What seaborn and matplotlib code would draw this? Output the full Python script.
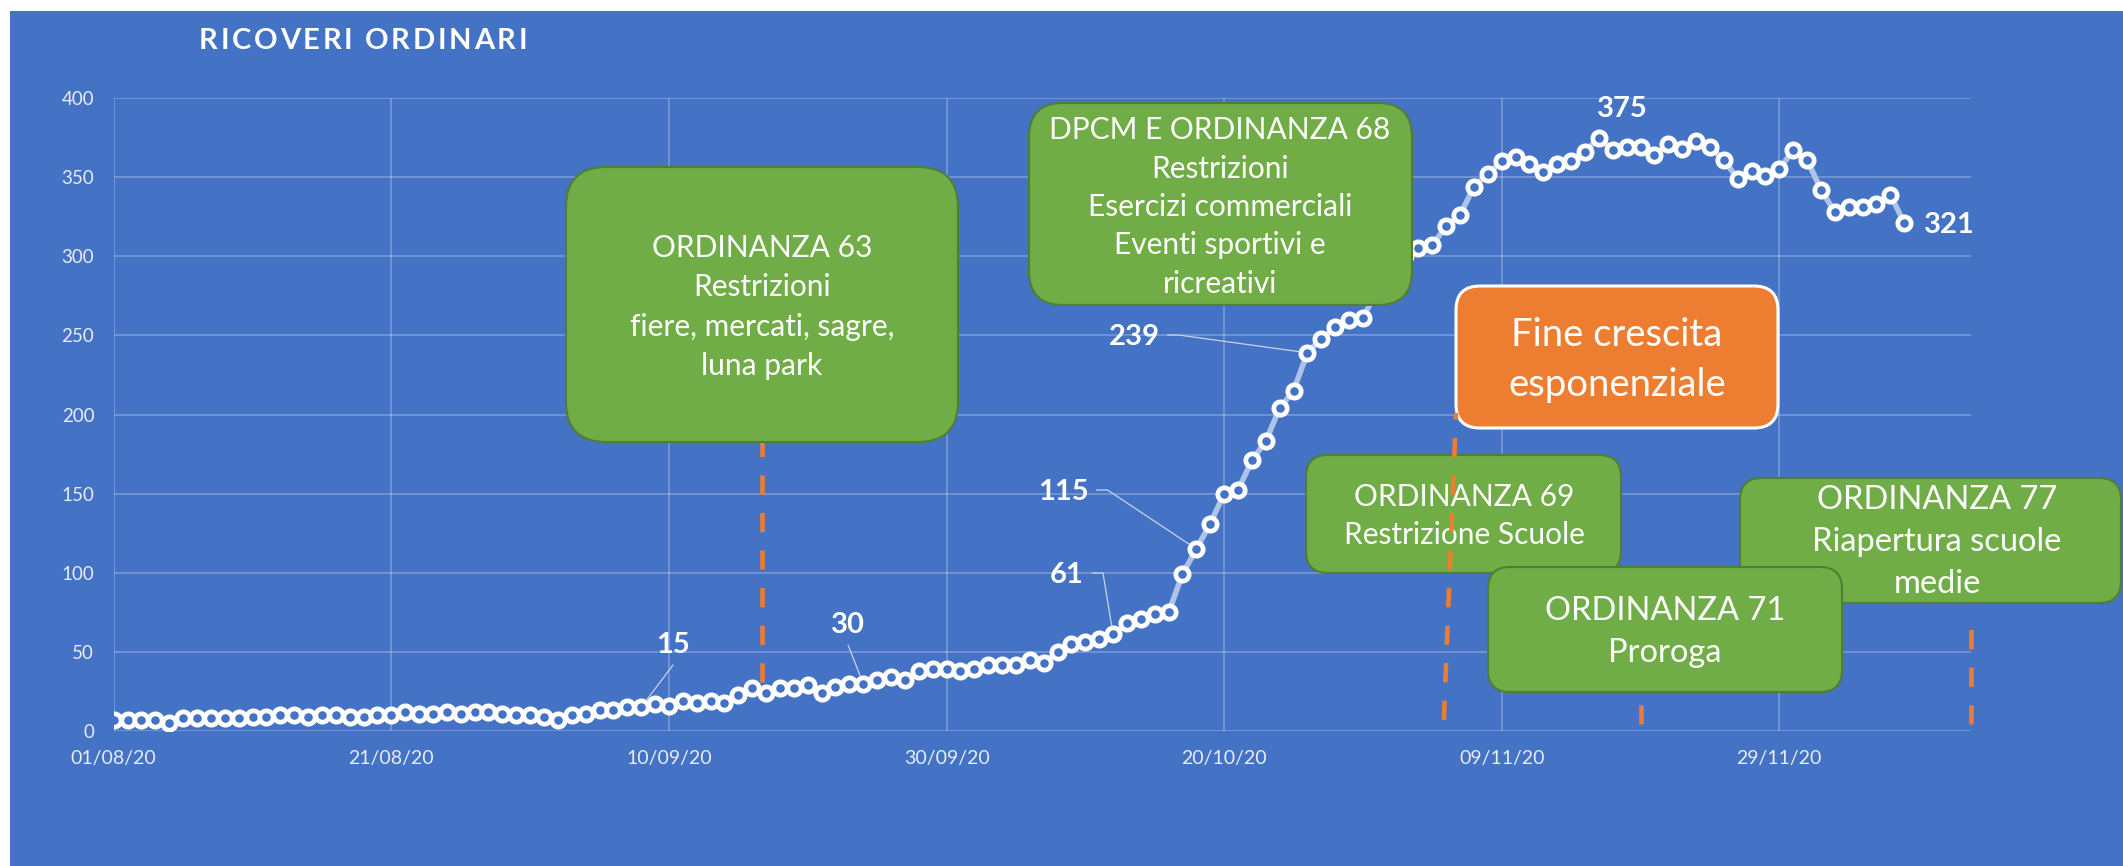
import matplotlib
matplotlib.use("Agg")
import matplotlib.pyplot as plt
import matplotlib.dates as mdates
from matplotlib.patches import FancyBboxPatch, Rectangle
from matplotlib.transforms import IdentityTransform
from matplotlib.lines import Line2D
import seaborn as sns
import pandas as pd

# ricoveri ordinari, one value per day from 01/08/20 to 08/12/20
START = "2020-08-01"
RICOVERI = [
    7, 7, 7, 7, 5, 8, 8, 8, 8, 8,
    9, 9, 10, 10, 9, 10, 10, 9, 9, 10,
    10, 12, 11, 11, 12, 11, 12, 12, 11, 10,
    10, 9, 7, 10, 11, 13, 13, 15, 15, 17,
    16, 19, 18, 19, 18, 23, 27, 24, 27, 27,
    29, 24, 28, 30, 30, 32, 34, 32, 38, 39,
    39, 38, 39, 42, 42, 42, 45, 43, 50, 55,
    56, 58, 61, 68, 71, 74, 75, 99, 115, 131,
    150, 152, 171, 183, 204, 215, 239, 248, 255, 260,
    261, 278, 290, 300, 305, 307, 319, 326, 344, 352,
    360, 363, 358, 353, 358, 360, 366, 375, 367, 369,
    369, 364, 371, 368, 373, 369, 361, 349, 354, 351,
    355, 367, 361, 342, 328, 331, 331, 333, 339, 321,
]
TICK_DATES = ["2020-08-01", "2020-08-21", "2020-09-10", "2020-09-30",
              "2020-10-20", "2020-11-09", "2020-11-29"]
Y_TICKS = [0, 50, 100, 150, 200, 250, 300, 350, 400]

# dates that carry a data label
LABEL_DATES = ["2020-09-08", "2020-09-24", "2020-10-12", "2020-10-18",
               "2020-10-26", "2020-11-16", "2020-12-08"]

TITLE = "RICOVERI ORDINARI"
BOX_TEXTS = [
    "ORDINANZA 63\nRestrizioni\nfiere, mercati, sagre,\nluna park",
    "DPCM E ORDINANZA 68\nRestrizioni\nEsercizi commerciali\nEventi sportivi e\nricreativi",
    "Fine crescita\nesponenziale",
    "ORDINANZA 69\nRestrizione Scuole",
    "ORDINANZA 77\nRiapertura scuole\nmedie",
    "ORDINANZA 71\nProroga",
]

BLUE = "#4472C4"
GREEN = "#70AD47"
GREEN_EDGE = "#507E32"
ORANGE = "#ED7D31"
LINE = "#adc3ea"
TICK_COL = "#e8ecf5"

W, H = 2123, 866


def main():
    sns.set_theme(style="white")
    plt.rcParams["font.family"] = ["Lato", "DejaVu Sans"]

    fig = plt.figure(figsize=(W / 100, H / 100), dpi=100)
    fig.patch.set_facecolor("white")
    fig.add_artist(Rectangle((10, 0), W - 10, H - 11, transform=IdentityTransform(),
                             fc=BLUE, ec="none", zorder=-5))

    ax = fig.add_axes([113.7 / W, 1 - 731 / H, (1971.4 - 113.7) / W, (731 - 98) / H])
    ax.set_facecolor("none")

    df = pd.DataFrame({
        "data": pd.date_range(START, periods=len(RICOVERI), freq="D"),
        "ricoveri": RICOVERI,
    })
    sns.lineplot(data=df, x="data", y="ricoveri", ax=ax, color=LINE, linewidth=4,
                 marker="o", markersize=9.6, markerfacecolor=BLUE,
                 markeredgecolor="white", markeredgewidth=3.4, zorder=3)

    start = pd.Timestamp(START)
    ax.set_xlim(start, start + pd.Timedelta(days=133.84))
    ax.set_ylim(0, 400)
    ax.set_xticks(pd.to_datetime(TICK_DATES))
    ax.xaxis.set_major_formatter(mdates.DateFormatter("%d/%m/%y"))
    ax.set_yticks(Y_TICKS)
    ax.set_xlabel("")
    ax.set_ylabel("")
    ax.tick_params(length=0, colors=TICK_COL, pad=14)
    ax.tick_params(axis="x", labelsize=14)
    ax.tick_params(axis="y", labelsize=13.5)
    ax.grid(True, color="white", alpha=0.3, linewidth=1.1)
    ax.set_axisbelow(True)
    for s in ax.spines.values():
        s.set_visible(False)

    # title with a little letter spacing, as in the original
    renderer = fig.canvas.get_renderer()
    title_kw = dict(fontsize=21, fontweight="bold", color="white", va="baseline", ha="left")

    def text_w(s):
        t = fig.text(0, 0, s, **title_kw)
        w = t.get_window_extent(renderer).width
        t.remove()
        return w

    for i, ch in enumerate(TITLE):
        if ch == " ":
            continue
        xi = 198.7 + text_w(TITLE[:i + 1]) - text_w(ch) + i * 2.7
        fig.text(xi / W, 1 - 49.3 / H, ch, **title_kw)

    # ---- annotation boxes (pixel positions measured from top-left)
    def box(x0, y0, x1, y1, fc, ec, lw, r, z):
        fig.add_artist(FancyBboxPatch((x0, H - y1), x1 - x0, y1 - y0,
                                      boxstyle=f"round,pad=0,rounding_size={r}",
                                      fc=fc, ec=ec, lw=lw, transform=IdentityTransform(),
                                      zorder=z))

    def btext(x, y, s, size, z, ls=1.5):
        fig.text(x / W, 1 - y / H, s, ha="center", va="center", ma="center",
                 color="white", fontsize=size, linespacing=ls, zorder=z)

    box(566, 167, 958, 442, GREEN, GREEN_EDGE, 1.5, 40, 5)
    btext(762, 307, BOX_TEXTS[0], 21.5, 5.1, ls=1.48)
    box(1029, 103, 1412, 305, GREEN, GREEN_EDGE, 1.5, 34, 5)
    btext(1220, 207, BOX_TEXTS[1], 21.5, 5.1, ls=1.45)
    box(1456, 286, 1778, 428, ORANGE, "white", 2.2, 24, 5)
    btext(1617, 360, BOX_TEXTS[2], 27.5, 5.1, ls=1.45)
    box(1306, 455, 1621, 573, GREEN, GREEN_EDGE, 1.5, 22, 5)
    btext(1464, 516, BOX_TEXTS[3], 21.5, 5.1, ls=1.46)
    box(1740, 478, 2121, 603, GREEN, GREEN_EDGE, 1.5, 22, 5)
    btext(1937, 542, BOX_TEXTS[4], 23.5, 5.1)
    box(1488, 567, 1842, 692, GREEN, GREEN_EDGE, 1.5, 22, 7)
    btext(1665, 632, BOX_TEXTS[5], 23.5, 7.1)

    # ---- dashed event lines (date, date, y from, y to, zorder)
    events = [
        ("2020-09-16 17:00", "2020-09-16 17:00", 31, 183, 4),
        ("2020-11-04 20:00", "2020-11-05 17:00", 7, 201, 6),
        ("2020-11-19 00:00", "2020-11-19 00:00", 4.4, 26, 4),
        ("2020-12-12 20:00", "2020-12-12 20:00", 4.4, 72, 4),
    ]
    for d0, d1, y0, y1, z in events:
        xs = [mdates.date2num(pd.Timestamp(d0)), mdates.date2num(pd.Timestamp(d1))]
        fig.add_artist(Line2D(xs, [y0, y1], transform=ax.transData, color=ORANGE,
                              lw=3.3, linestyle=(0, (4.2, 4.0)), zorder=z,
                              solid_capstyle="butt"))

    # ---- data labels with leader lines
    label_pos = [(673, 653), (848, 633), (1067, 583), (1063, 500),
                 (1134, 345), (1622, 117), (1949, 233)]
    leader = ["bottom", "bottom", "elbow", "elbow", "elbow", None, None]
    vals = df.set_index("data")["ricoveri"]
    for d, (lx, ly), kind in zip(LABEL_DATES, label_pos, leader):
        v = int(vals[pd.Timestamp(d)])
        fig.text(lx / W, 1 - ly / H, str(v), ha="center", va="baseline",
                 fontsize=21, fontweight="bold", color="white", zorder=4)
        if kind is None:
            continue
        px, py = ax.transData.transform((mdates.date2num(pd.Timestamp(d)), v))
        halfw = 8.5 * len(str(v))
        if kind == "bottom":
            pts = [(lx, H - ly - 12)]
        else:
            sx, sy = lx + halfw + 8, H - ly + 10
            pts = [(sx, sy), (sx + 11, sy)]
        ex, ey = pts[-1]
        dx, dy = px - ex, py - ey
        dist = (dx * dx + dy * dy) ** 0.5
        pts.append((px - dx / dist * 8, py - dy / dist * 8))
        fig.add_artist(Line2D([p[0] for p in pts], [p[1] for p in pts],
                              transform=IdentityTransform(), color="#c9d3e8",
                              lw=0.9, zorder=4))

    fig.savefig("out.png", dpi=100, facecolor=fig.get_facecolor())


if __name__ == "__main__":
    main()
